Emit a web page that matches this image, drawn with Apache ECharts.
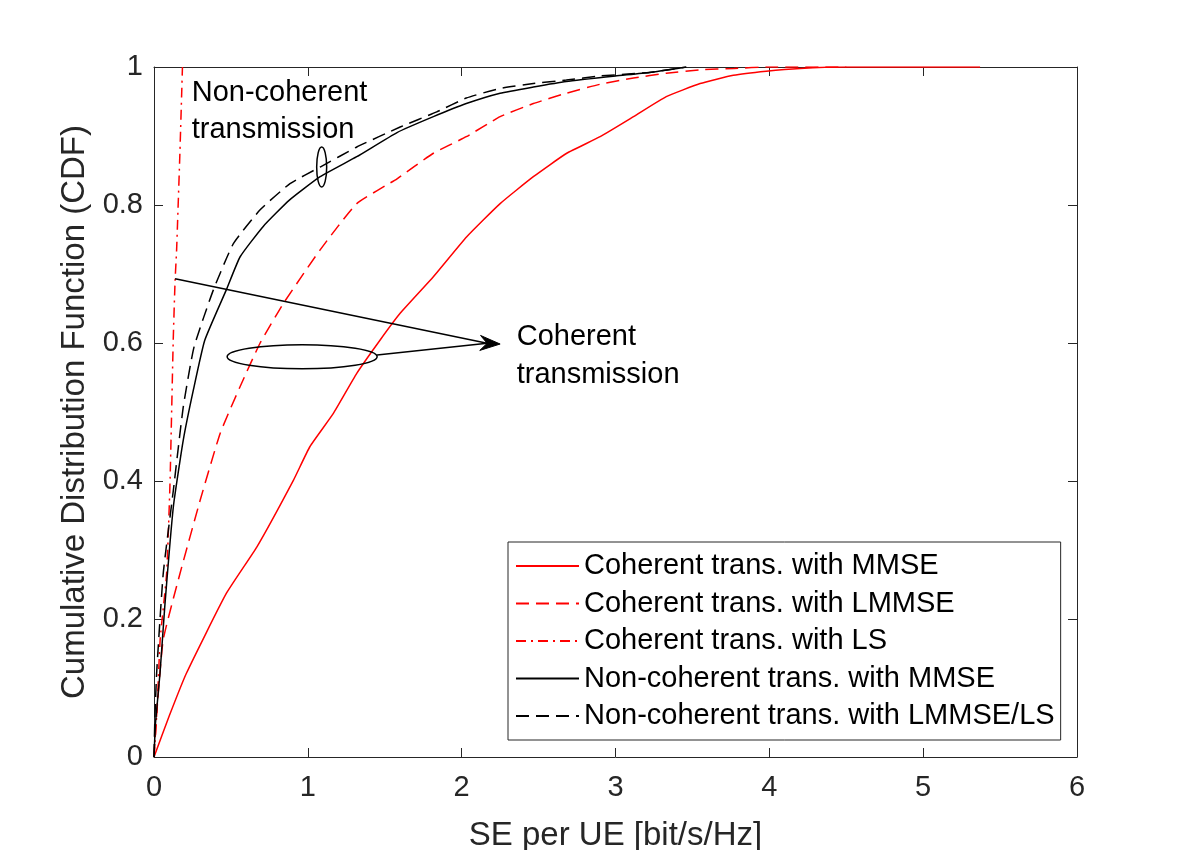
<!DOCTYPE html>
<html>
<head>
<meta charset="utf-8">
<script src="https://cdn.jsdelivr.net/npm/echarts@6/dist/echarts.min.js"></script>
<style>html,body{margin:0;padding:0;background:#fff}#c{width:1192px;height:850px}</style>
</head>
<body>
<div id="c"></div>
<script>
// ---- data ----
const xTicks = [0, 1, 2, 3, 4, 5, 6];
const yTicks = [0, 0.2, 0.4, 0.6, 0.8, 1];

const seriesNames = [
  'Coherent trans. with MMSE',
  'Coherent trans. with LMMSE',
  'Coherent trans. with LS',
  'Non-coherent trans. with MMSE',
  'Non-coherent trans. with LMMSE/LS'
];

const cohMMSE_x = [0, 0.1, 0.21, 0.47, 0.67, 0.906, 1.014, 1.166, 1.318, 1.469, 1.6, 1.816, 2.033, 2.25, 2.466, 2.683, 2.9, 3.117, 3.33, 3.55, 3.766, 3.98, 4.2, 4.5, 5.37];
const cohMMSE_y = [0, 0.06, 0.121, 0.237, 0.305, 0.401, 0.45, 0.498, 0.556, 0.604, 0.643, 0.696, 0.754, 0.802, 0.841, 0.875, 0.899, 0.928, 0.957, 0.976, 0.988, 0.994, 0.998, 1.0, 1.0];

const cohLMMSE_x = [0, 0.02, 0.06, 0.169, 0.3, 0.43, 0.56, 0.69, 0.84, 1.08, 1.318, 1.58, 1.816, 2.03, 2.25, 2.466, 2.68, 2.9, 3.117, 3.33, 3.55, 3.77, 4.0, 4.5];
const cohLMMSE_y = [0, 0.07, 0.17, 0.266, 0.372, 0.469, 0.537, 0.6, 0.657, 0.735, 0.802, 0.838, 0.875, 0.899, 0.928, 0.947, 0.962, 0.975, 0.984, 0.991, 0.996, 0.998, 1.0, 1.0];

const cohLS_x = [0, 0.02, 0.04, 0.082, 0.104, 0.125, 0.137, 0.147, 0.169, 0.185];
const cohLS_y = [0, 0.07, 0.17, 0.266, 0.397, 0.604, 0.69, 0.735, 0.88, 1.0];

const ncMMSE_x = [0, 0.01, 0.039, 0.07, 0.126, 0.19, 0.256, 0.33, 0.47, 0.56, 0.71, 0.88, 1.08, 1.318, 1.58, 1.816, 2.03, 2.25, 2.466, 2.68, 3.0, 3.22, 3.46];
const ncMMSE_y = [0, 0.05, 0.121, 0.218, 0.363, 0.459, 0.532, 0.604, 0.677, 0.725, 0.769, 0.807, 0.841, 0.87, 0.905, 0.928, 0.947, 0.962, 0.971, 0.979, 0.987, 0.992, 1.0];

const ncLMMSE_x = [0, 0.005, 0.017, 0.06, 0.126, 0.19, 0.26, 0.386, 0.516, 0.69, 0.884, 1.08, 1.318, 1.6, 1.838, 2.03, 2.25, 2.466, 2.68, 2.9, 3.22, 3.46];
const ncLMMSE_y = [0, 0.05, 0.121, 0.266, 0.387, 0.507, 0.594, 0.677, 0.744, 0.793, 0.831, 0.855, 0.884, 0.913, 0.935, 0.955, 0.969, 0.976, 0.981, 0.987, 0.992, 1.0];

// annotation anchors in data coordinates
const noncohText = {x: 0.245, y: 0.99, text: 'Non-coherent\ntransmission'};
const cohText = {x: 2.358, y: 0.636, text: 'Coherent\ntransmission'};
const smallEllipse = {x: 1.09, y: 0.855};
const bigEllipse = {x: 0.963, y: 0.58};
const arrowTip = {x: 2.25, y: 0.5985};
const arrowFrom1 = {x: 0.137, y: 0.693};
const arrowFrom2 = {x: 1.45, y: 0.5826};

// ---- chart ----
const FONT = 'Liberation Sans, Arial, Helvetica, sans-serif';
const AX = '#262626';
const zip = (xs, ys) => xs.map((v, i) => [v, ys[i]]);

const chart = echarts.init(document.getElementById('c'), null, {renderer: 'canvas'});

function mkSeries(name, xs, ys, color, type) {
  return {
    name, type: 'line', data: zip(xs, ys), xAxisIndex: 0, yAxisIndex: 0,
    symbol: 'none', showSymbol: false, smooth: 0.15,
    lineStyle: {color, width: 1.5, type, cap: 'butt'},
    itemStyle: {color}, emphasis: {disabled: true}, animation: false, z: 3
  };
}

const baseAxis = {
  axisLine: {show: true, onZero: false, lineStyle: {color: AX, width: 1}},
  axisTick: {show: true, inside: true, length: 9, lineStyle: {color: AX, width: 1}},
  splitLine: {show: false},
  axisLabel: {color: AX, fontFamily: FONT, fontSize: 29}
};

chart.setOption({
  backgroundColor: '#fff',
  animation: false,
  textStyle: {fontFamily: FONT},
  grid: {left: 154, right: 115, top: 67, bottom: 93, containLabel: false, outerBoundsMode: 'none'},
  xAxis: [
    Object.assign({}, baseAxis, {
      type: 'value', min: 0, max: 6, interval: 1, position: 'bottom',
      name: 'SE per UE [bit/s/Hz]', nameLocation: 'middle', nameGap: 62,
      nameTextStyle: {color: AX, fontFamily: FONT, fontSize: 33},
      axisLabel: {color: AX, fontFamily: FONT, fontSize: 29, margin: 16}
    }),
    Object.assign({}, baseAxis, {
      type: 'value', min: 0, max: 6, interval: 1, position: 'top',
      axisLabel: {show: false}
    })
  ],
  yAxis: [
    Object.assign({}, baseAxis, {
      type: 'value', min: 0, max: 1, interval: 0.2, position: 'left',
      name: 'Cumulative Distribution Function (CDF)', nameLocation: 'middle', nameGap: 63,
      nameTextStyle: {color: AX, fontFamily: FONT, fontSize: 33},
      axisLabel: {color: AX, fontFamily: FONT, fontSize: 29, margin: 11}
    }),
    Object.assign({}, baseAxis, {
      type: 'value', min: 0, max: 1, interval: 0.2, position: 'right',
      axisLabel: {show: false}
    })
  ],
  legend: {
    show: true, orient: 'vertical', left: 508, top: 542,
    padding: [9, 6, 9, 7], itemGap: 7.5, itemWidth: 63, itemHeight: 14,
    backgroundColor: '#fff', borderColor: AX, borderWidth: 1,
    itemStyle: {color: 'rgba(0,0,0,0)', borderWidth: 0, opacity: 0},
    textStyle: {color: '#000', fontFamily: FONT, fontSize: 29, lineHeight: 30},
    data: seriesNames, selectedMode: false
  },
  series: [
    mkSeries(seriesNames[0], cohMMSE_x, cohMMSE_y, '#ff0000', 'solid'),
    mkSeries(seriesNames[1], cohLMMSE_x, cohLMMSE_y, '#ff0000', [13, 7]),
    mkSeries(seriesNames[2], cohLS_x, cohLS_y, '#ff0000', [10, 5, 2, 5]),
    mkSeries(seriesNames[3], ncMMSE_x, ncMMSE_y, '#000000', 'solid'),
    mkSeries(seriesNames[4], ncLMMSE_x, ncLMMSE_y, '#000000', [13, 7])
  ]
});

// ---- annotations, positioned through the axes ----
function px(p) { return chart.convertToPixel({gridIndex: 0}, [p.x, p.y]); }
const T = px(arrowTip), A1 = px(arrowFrom1), A2 = px(arrowFrom2);
const d1 = [T[0] - A1[0], T[1] - A1[1]], d2 = [T[0] - A2[0], T[1] - A2[1]];
const n1 = Math.hypot(d1[0], d1[1]), n2 = Math.hypot(d2[0], d2[1]);
let d = [d1[0] / n1 + d2[0] / n2, d1[1] / n1 + d2[1] / n2];
const dn = Math.hypot(d[0], d[1]); d = [d[0] / dn, d[1] / dn];
const nrm = [-d[1], d[0]];
const L = 20, W = 7.5, N = 13;
const tail = [T[0] - L * d[0], T[1] - L * d[1]];
const head = [
  T,
  [tail[0] + W * nrm[0], tail[1] + W * nrm[1]],
  [T[0] - N * d[0], T[1] - N * d[1]],
  [tail[0] - W * nrm[0], tail[1] - W * nrm[1]]
];
const tip2 = [T[0] - N * d[0], T[1] - N * d[1]];
const SE = px(smallEllipse), BE = px(bigEllipse);
const NT = px(noncohText), CT = px(cohText);

chart.setOption({
  graphic: [
    {type: 'ellipse', shape: {cx: SE[0], cy: SE[1], rx: 5, ry: 20}, style: {fill: 'none', stroke: '#000', lineWidth: 1.5}, z: 10},
    {type: 'ellipse', shape: {cx: BE[0], cy: BE[1], rx: 75, ry: 12}, style: {fill: 'none', stroke: '#000', lineWidth: 1.5}, z: 10},
    {type: 'line', shape: {x1: A1[0], y1: A1[1], x2: tip2[0], y2: tip2[1]}, style: {stroke: '#000', lineWidth: 1.5}, z: 10},
    {type: 'line', shape: {x1: A2[0], y1: A2[1], x2: tip2[0], y2: tip2[1]}, style: {stroke: '#000', lineWidth: 1.5}, z: 10},
    {type: 'polygon', shape: {points: head}, style: {fill: '#000', stroke: '#000', lineWidth: 1}, z: 10},
    {type: 'text', x: NT[0], y: NT[1], style: {text: noncohText.text, fill: '#000', font: '29px ' + FONT, lineHeight: 37.5, verticalAlign: 'top', align: 'left'}, z: 10},
    {type: 'text', x: CT[0], y: CT[1], style: {text: cohText.text, fill: '#000', font: '29px ' + FONT, lineHeight: 38, verticalAlign: 'top', align: 'left'}, z: 10}
  ]
});
</script>
</body>
</html>
